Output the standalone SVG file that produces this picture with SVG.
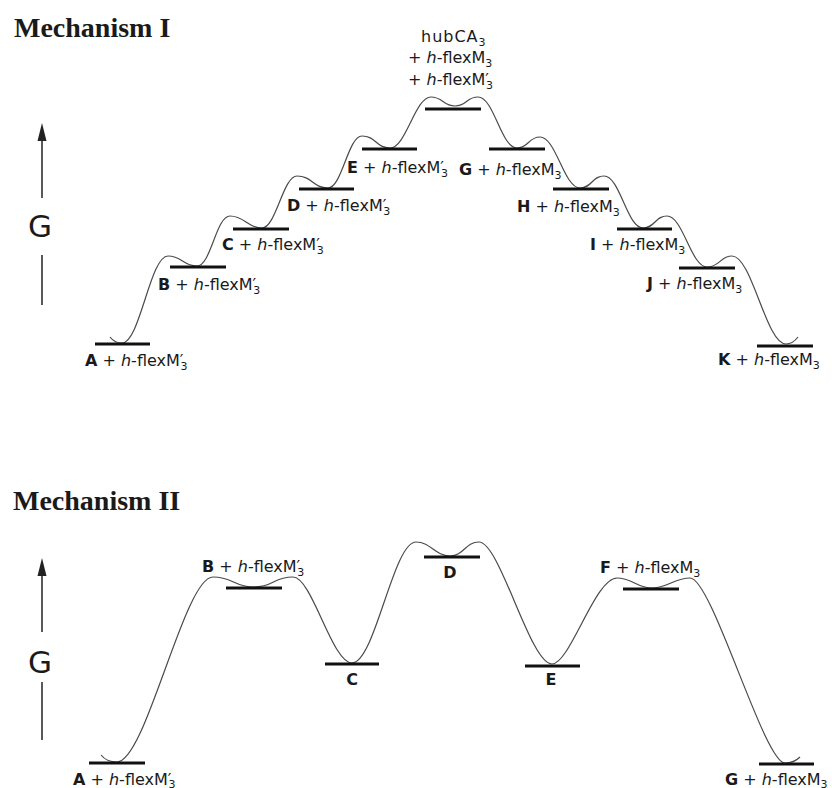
<svg xmlns="http://www.w3.org/2000/svg" width="832" height="788" viewBox="0 0 832 788">
<style>
.title{font-family:"Liberation Serif","Times New Roman",serif;font-weight:bold;font-size:28px;fill:#1a1a1a}
.lbl{font-family:"DejaVu Sans","Liberation Sans",sans-serif;font-size:16px;fill:#1a1a1a}
.b{font-weight:bold}
.i{font-style:italic}
.sub{font-size:11px}
.gax{font-family:"DejaVu Sans","Liberation Sans",sans-serif;font-size:31px;fill:#1a1a1a}
.bar{stroke:#111;stroke-width:3;fill:none}
.curve{stroke:#4a4a4a;stroke-width:1.2;fill:none}
.axis{stroke:#222;stroke-width:1.5;fill:none}
</style>
<rect width="832" height="788" fill="#fff"/>

<text class="title" x="14" y="37">Mechanism I</text>
<text class="title" x="13" y="510">Mechanism II</text>

<g id="axis1">
<line class="axis" x1="42" y1="198" x2="42" y2="136"/>
<polygon points="42,123 37.5,141 46.5,141" fill="#222"/>
<text class="gax" x="40" y="237" text-anchor="middle">G</text>
<line class="axis" x1="42" y1="255" x2="42" y2="305"/>
</g>
<g id="axis2">
<line class="axis" x1="42" y1="632" x2="42" y2="571"/>
<polygon points="42,558 37.5,576 46.5,576" fill="#222"/>
<text class="gax" x="40" y="673" text-anchor="middle">G</text>
<line class="axis" x1="42" y1="682" x2="42" y2="740"/>
</g>

<g id="connectors">
<path id="curve1" class="curve" d="M 110,337 C 113,341 117,343 122,343 C 140,343 150,256 168,256 C 182,256 183,266 197,266 C 211,266 216,216 230,216 C 245,216 247,228 262,228 C 276,228 283,176 297,176 C 312,176 313,188 328,188 C 342,188 348,136 362,136 C 376,136 376,148 390,148 C 406,148 415,97 431,97 C 443,97 443,106 455,106 C 467,106 466,97 478,97 C 494,97 501,148 517,148 C 529,148 528,137 540,137 C 556,137 564,188 580,188 C 592,188 592,176 604,176 C 620,176 627,228 643,228 C 655,228 655,216 667,216 C 683,216 691,267 707,267 C 720,267 720,256 732,256 C 752,256 766,344 786,344 C 791,344 795,341 798,337"/>
<path id="curve2" class="curve" d="M 101,755 C 105,760 110,762 117,762 C 146,762 184,577 213,577 C 233,577 234,587 254,587 C 274,587 273,577 293,577 C 312,577 332,663 352,663 C 375,663 393,542 416,542 C 431,542 435,556 450,556 C 464,556 465,542 479,542 C 500,542 530,664 552,664 C 570,664 595,578 617,578 C 632,578 637,588 652,588 C 667,588 675,578 690,578 C 712,578 764,763 785,763 C 791,763 796,761 800,757"/>
</g>

<!-- Mechanism I nodes -->
<g id="m1-A">
<line class="bar" x1="95" y1="344" x2="150" y2="344"/>
<text class="lbl" x="85" y="366"><tspan class="b">A</tspan> + <tspan class="i">h</tspan>-flexM′<tspan class="sub" dx="-3" dy="4">3</tspan></text>
</g>
<g id="m1-B">
<line class="bar" x1="170" y1="267" x2="226" y2="267"/>
<text class="lbl" x="158" y="290"><tspan class="b">B</tspan> + <tspan class="i">h</tspan>-flexM′<tspan class="sub" dx="-3" dy="4">3</tspan></text>
</g>
<g id="m1-C">
<line class="bar" x1="233" y1="229" x2="289" y2="229"/>
<text class="lbl" x="222" y="250"><tspan class="b">C</tspan> + <tspan class="i">h</tspan>-flexM′<tspan class="sub" dx="-3" dy="4">3</tspan></text>
</g>
<g id="m1-D">
<line class="bar" x1="299" y1="189" x2="354" y2="189"/>
<text class="lbl" x="287" y="211"><tspan class="b">D</tspan> + <tspan class="i">h</tspan>-flexM′<tspan class="sub" dx="-3" dy="4">3</tspan></text>
</g>
<g id="m1-E">
<line class="bar" x1="362" y1="149" x2="417" y2="149"/>
<text class="lbl" x="347" y="173"><tspan class="b">E</tspan> + <tspan class="i">h</tspan>-flexM′<tspan class="sub" dx="-3" dy="4">3</tspan></text>
</g>
<g id="m1-hub">
<line class="bar" x1="425" y1="109" x2="481" y2="109"/>
<text class="lbl" x="421" y="42" letter-spacing="1">hubCA<tspan class="sub" dy="4">3</tspan></text>
<text class="lbl" x="408" y="63">+ <tspan class="i">h</tspan>-flexM<tspan class="sub" dy="4">3</tspan></text>
<text class="lbl" x="408" y="85">+ <tspan class="i">h</tspan>-flexM′<tspan class="sub" dx="-3" dy="4">3</tspan></text>
</g>
<g id="m1-G">
<line class="bar" x1="489" y1="149" x2="545" y2="149"/>
<text class="lbl" x="459" y="175"><tspan class="b">G</tspan> + <tspan class="i">h</tspan>-flexM<tspan class="sub" dy="4">3</tspan></text>
</g>
<g id="m1-H">
<line class="bar" x1="553" y1="189" x2="609" y2="189"/>
<text class="lbl" x="517" y="212"><tspan class="b">H</tspan> + <tspan class="i">h</tspan>-flexM<tspan class="sub" dy="4">3</tspan></text>
</g>
<g id="m1-I">
<line class="bar" x1="617" y1="229" x2="672" y2="229"/>
<text class="lbl" x="590" y="250"><tspan class="b">I</tspan> + <tspan class="i">h</tspan>-flexM<tspan class="sub" dy="4">3</tspan></text>
</g>
<g id="m1-J">
<line class="bar" x1="679" y1="268" x2="735" y2="268"/>
<text class="lbl" x="647" y="289"><tspan class="b">J</tspan> + <tspan class="i">h</tspan>-flexM<tspan class="sub" dy="4">3</tspan></text>
</g>
<g id="m1-K">
<line class="bar" x1="757" y1="346" x2="813" y2="346"/>
<text class="lbl" x="718" y="365"><tspan class="b">K</tspan> + <tspan class="i">h</tspan>-flexM<tspan class="sub" dy="4">3</tspan></text>
</g>

<!-- Mechanism II nodes -->
<g id="m2-A">
<line class="bar" x1="89" y1="763" x2="145" y2="763"/>
<text class="lbl" x="73" y="785"><tspan class="b">A</tspan> + <tspan class="i">h</tspan>-flexM′<tspan class="sub" dx="-3" dy="3">3</tspan></text>
</g>
<g id="m2-B">
<line class="bar" x1="226" y1="588" x2="282" y2="588"/>
<text class="lbl" x="202" y="572"><tspan class="b">B</tspan> + <tspan class="i">h</tspan>-flexM′<tspan class="sub" dx="-3" dy="4">3</tspan></text>
</g>
<g id="m2-C">
<line class="bar" x1="325" y1="664" x2="379" y2="664"/>
<text class="lbl b" x="352" y="685" text-anchor="middle">C</text>
</g>
<g id="m2-D">
<line class="bar" x1="424" y1="557" x2="480" y2="557"/>
<text class="lbl b" x="450" y="578" text-anchor="middle">D</text>
</g>
<g id="m2-E">
<line class="bar" x1="525" y1="666" x2="580" y2="666"/>
<text class="lbl b" x="551" y="685" text-anchor="middle">E</text>
</g>
<g id="m2-F">
<line class="bar" x1="623" y1="589" x2="679" y2="589"/>
<text class="lbl" x="600" y="573"><tspan class="b">F</tspan> + <tspan class="i">h</tspan>-flexM<tspan class="sub" dy="4">3</tspan></text>
</g>
<g id="m2-G">
<line class="bar" x1="759" y1="764" x2="814" y2="764"/>
<text class="lbl" x="725" y="785"><tspan class="b">G</tspan> + <tspan class="i">h</tspan>-flexM<tspan class="sub" dy="3">3</tspan></text>
</g>
</svg>
